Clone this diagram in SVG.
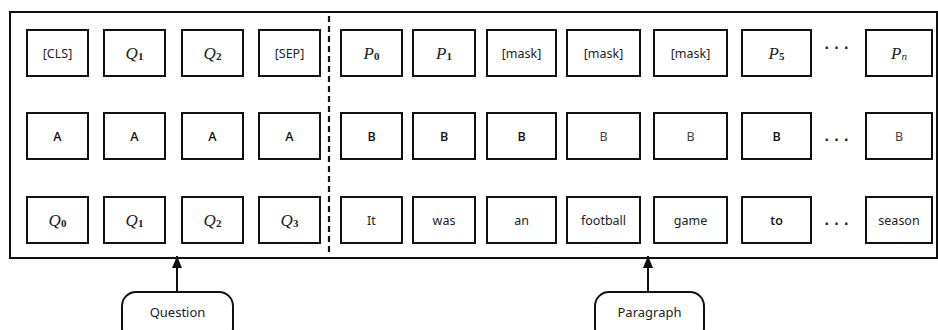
<svg xmlns="http://www.w3.org/2000/svg" width="938" height="330" viewBox="0 0 938 330">
<defs>
<style>
.box{fill:#fff;stroke:#111;stroke-width:2}
.t{font-family:"Noto Sans","Open Sans",sans-serif;font-size:12.5px;fill:#222;text-anchor:middle;dominant-baseline:central}
.tb{font-family:"Open Sans","Noto Sans",sans-serif;font-weight:600;fill:#111}
.tl{fill:#444}
.m{font-family:"Liberation Serif","DejaVu Serif",serif;font-style:italic;font-size:17px;fill:#222;text-anchor:middle;dominant-baseline:central}
.sub{font-style:normal;font-weight:bold;font-size:11px}
.dots{font-family:"Liberation Sans",sans-serif;font-size:16px;font-weight:bold;fill:#222;text-anchor:middle}
.lbl{font-family:"Noto Sans","Open Sans",sans-serif;font-size:13px;fill:#222;text-anchor:middle;dominant-baseline:central}
.conn{stroke:#111;stroke-width:2;fill:none}
</style>
<marker id="ah" viewBox="0 0 12 10" refX="12" refY="5" markerWidth="12" markerHeight="10" markerUnits="userSpaceOnUse" orient="auto">
<path d="M0,0 L12,5 L0,10 Z" fill="#111"/>
</marker>
</defs>
<rect id="frame" x="10" y="12" width="927" height="246" fill="none" stroke="#111" stroke-width="2"/>
<line x1="329" y1="16" x2="329" y2="256" stroke="#111" stroke-width="2.2" stroke-dasharray="6,4"/>

<g id="r1">
<g id="n-cls"><rect class="box" x="27" y="30" width="61" height="46"/><text class="t" x="57.5" y="53">[CLS]</text></g>
<g id="n-q1a"><rect class="box" x="104" y="30" width="61" height="46"/><text class="m" x="134.5" y="53">Q<tspan class="sub" dy="3">1</tspan></text></g>
<g id="n-q2a"><rect class="box" x="182" y="30" width="61" height="46"/><text class="m" x="212.5" y="53">Q<tspan class="sub" dy="3">2</tspan></text></g>
<g id="n-sep"><rect class="box" x="259" y="30" width="61" height="46"/><text class="t" x="289.5" y="53">[SEP]</text></g>
<g id="n-p0"><rect class="box" x="341" y="30" width="61" height="46"/><text class="m" x="371.5" y="53">P<tspan class="sub" dy="3">0</tspan></text></g>
<g id="n-p1"><rect class="box" x="413" y="30" width="62" height="46"/><text class="m" x="444" y="53">P<tspan class="sub" dy="3">1</tspan></text></g>
<g id="n-mask1"><rect class="box" x="487" y="30" width="69" height="46"/><text class="t" x="521.5" y="53">[mask]</text></g>
<g id="n-mask2"><rect class="box" x="567" y="30" width="73" height="46"/><text class="t" x="603.5" y="53">[mask]</text></g>
<g id="n-mask3"><rect class="box" x="654" y="30" width="73" height="46"/><text class="t" x="690.5" y="53">[mask]</text></g>
<g id="n-p5"><rect class="box" x="742" y="30" width="69" height="46"/><text class="m" x="776.5" y="53">P<tspan class="sub" dy="3">5</tspan></text></g>
<text class="dots" x="837" y="53">· · ·</text>
<g id="n-pn"><rect class="box" x="866" y="30" width="66" height="46"/><text class="m" x="899" y="53">P<tspan style="font-size:11px" dy="3">n</tspan></text></g>
</g>

<g id="r2">
<g id="n-a1"><rect class="box" x="27" y="113" width="61" height="46"/><text class="t tb" x="57.5" y="136">A</text></g>
<g id="n-a2"><rect class="box" x="104" y="113" width="61" height="46"/><text class="t tb" x="134.5" y="136">A</text></g>
<g id="n-a3"><rect class="box" x="182" y="113" width="61" height="46"/><text class="t tb" x="212.5" y="136">A</text></g>
<g id="n-a4"><rect class="box" x="259" y="113" width="61" height="46"/><text class="t tb" x="289.5" y="136">A</text></g>
<g id="n-b1"><rect class="box" x="341" y="113" width="61" height="46"/><text class="t tb" x="371.5" y="136">B</text></g>
<g id="n-b2"><rect class="box" x="413" y="113" width="62" height="46"/><text class="t tb" x="444" y="136">B</text></g>
<g id="n-b3"><rect class="box" x="487" y="113" width="69" height="46"/><text class="t tb" x="521.5" y="136">B</text></g>
<g id="n-b4"><rect class="box" x="567" y="113" width="73" height="46"/><text class="t tl" x="603.5" y="136">B</text></g>
<g id="n-b5"><rect class="box" x="654" y="113" width="73" height="46"/><text class="t tl" x="690.5" y="136">B</text></g>
<g id="n-b6"><rect class="box" x="742" y="113" width="69" height="46"/><text class="t tb" x="776.5" y="136">B</text></g>
<text class="dots" x="837" y="145">· · ·</text>
<g id="n-b7"><rect class="box" x="866" y="113" width="66" height="46"/><text class="t tl" x="899" y="136">B</text></g>
</g>

<g id="r3">
<g id="n-q0"><rect class="box" x="27" y="197" width="61" height="46"/><text class="m" x="57.5" y="220">Q<tspan class="sub" dy="3">0</tspan></text></g>
<g id="n-q1"><rect class="box" x="104" y="197" width="61" height="46"/><text class="m" x="134.5" y="220">Q<tspan class="sub" dy="3">1</tspan></text></g>
<g id="n-q2"><rect class="box" x="182" y="197" width="61" height="46"/><text class="m" x="212.5" y="220">Q<tspan class="sub" dy="3">2</tspan></text></g>
<g id="n-q3"><rect class="box" x="259" y="197" width="61" height="46"/><text class="m" x="289.5" y="220">Q<tspan class="sub" dy="3">3</tspan></text></g>
<g id="n-it"><rect class="box" x="341" y="197" width="61" height="46"/><text class="t" x="371.5" y="220">It</text></g>
<g id="n-was"><rect class="box" x="413" y="197" width="62" height="46"/><text class="t" x="444" y="220">was</text></g>
<g id="n-an"><rect class="box" x="487" y="197" width="69" height="46"/><text class="t" x="521.5" y="220">an</text></g>
<g id="n-football"><rect class="box" x="567" y="197" width="73" height="46"/><text class="t" x="603.5" y="220">football</text></g>
<g id="n-game"><rect class="box" x="654" y="197" width="73" height="46"/><text class="t" x="690.5" y="220">game</text></g>
<g id="n-to"><rect class="box" x="742" y="197" width="69" height="46"/><text class="t tb" x="776.5" y="220">to</text></g>
<text class="dots" x="837" y="229">· · ·</text>
<g id="n-season"><rect class="box" x="866" y="197" width="66" height="46"/><text class="t" x="899" y="220">season</text></g>
</g>

<g id="n-question"><rect class="box" x="122" y="292" width="111" height="50" rx="14"/><text class="lbl" x="177.5" y="312">Question</text></g>
<g id="n-paragraph"><rect class="box" x="595" y="292" width="109" height="50" rx="14"/><text class="lbl" x="649.5" y="312">Paragraph</text></g>

<g id="connectors">
<line class="conn" x1="177" y1="292" x2="177" y2="256" marker-end="url(#ah)"/>
<line class="conn" x1="648" y1="292" x2="648" y2="256" marker-end="url(#ah)"/>
</g>
</svg>
